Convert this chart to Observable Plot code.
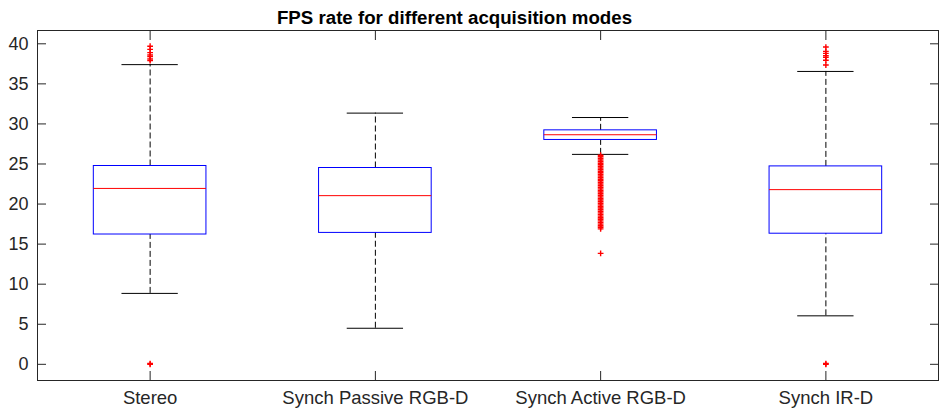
<!DOCTYPE html>
<html><head><meta charset="utf-8">
<script src="https://cdn.jsdelivr.net/npm/d3@7"></script>
<script src="https://cdn.jsdelivr.net/npm/@observablehq/plot@0.6"></script>
<style>body{margin:0;background:#fff;}</style>
</head><body><div id="chart"></div>
<script>
const title = "FPS rate for different acquisition modes";
const categories = ["Stereo", "Synch Passive RGB-D", "Synch Active RGB-D", "Synch IR-D"];
const q1 = [16.2, 16.4, 28.0, 16.3];
const medians = [21.95, 21.05, 28.65, 21.8];
const q3 = [24.75, 24.5, 29.2, 24.7];
const whiskerLow = [8.85, 4.5, 26.2, 6.05];
const whiskerHigh = [37.4, 31.35, 30.8, 36.55];
const outliersStereo = [39.7, 39.3, 38.9, 38.6, 38.4, 38.1, 37.9, 0.1, 0];
const outliersPassive = [];
const outliersActive = [26.1, 25.9, 25.7, 25.5, 25.3, 25.1, 24.9, 24.7, 24.5, 24.3, 24.1, 23.9, 23.7, 23.5, 23.3, 23.1, 22.9, 22.7, 22.5, 22.3, 22.1, 21.9, 21.7, 21.5, 21.3, 21.1, 20.9, 20.7, 20.5, 20.3, 20.1, 19.9, 19.7, 19.5, 19.3, 19.1, 18.9, 18.7, 18.5, 18.3, 18.1, 17.9, 17.7, 17.5, 17.3, 17.1, 16.9, 13.85];
const outliersIR = [39.6, 39.05, 38.8, 38.5, 38.3, 37.95, 37.35, 0.1, 0];
const yTicks = [0, 5, 10, 15, 20, 25, 30, 35, 40];

const outlierLists = [outliersStereo, outliersPassive, outliersActive, outliersIR];
const boxes = categories.map((c, i) => ({
  pos: i + 1, name: c, q1: q1[i], med: medians[i], q3: q3[i], lo: whiskerLow[i], hi: whiskerHigh[i]
}));
const outliers = outlierLists.flatMap((list, i) => list.map(v => ({pos: i + 1, value: v})));
const xTicks = boxes.map(b => b.pos);

const font = "'Liberation Sans', Arial, Helvetica, sans-serif";
const axisColor = "#262626";

const chart = Plot.plot({
  width: 948, height: 410,
  marginLeft: 37, marginRight: 10, marginTop: 30, marginBottom: 30,
  x: {type: "linear", domain: [0.5, 4.5]},
  y: {domain: [-2.02, 41.66]},
  style: {fontFamily: font, fontSize: "18px", color: axisColor, background: "#fff"},
  marks: [
    Plot.ruleX(boxes, {x: "pos", y1: "q3", y2: "hi", stroke: "#000", strokeDasharray: "6,3"}),
    Plot.ruleX(boxes, {x: "pos", y1: "lo", y2: "q1", stroke: "#000", strokeDasharray: "6,3"}),
    Plot.ruleY(boxes, {y: "hi", x1: d => d.pos - 0.125, x2: d => d.pos + 0.125, stroke: "#000"}),
    Plot.ruleY(boxes, {y: "lo", x1: d => d.pos - 0.125, x2: d => d.pos + 0.125, stroke: "#000"}),
    Plot.rect(boxes, {x1: d => d.pos - 0.25, x2: d => d.pos + 0.25, y1: "q1", y2: "q3", fill: "none", stroke: "#0000ff"}),
    Plot.ruleY(boxes, {y: "med", x1: d => d.pos - 0.25, x2: d => d.pos + 0.25, stroke: "#ff0000"}),
    Plot.dot(outliers, {x: "pos", y: "value", symbol: "plus", r: 2, stroke: "#ff0000", strokeWidth: 1.4}),
    Plot.frame({stroke: axisColor}),
    Plot.axisY({ticks: yTicks, tickSize: 0, tickPadding: 9, fontSize: 18, label: null, fill: axisColor}),
    Plot.axisY({ticks: yTicks, tickSize: 9, dx: 9, fill: "none", label: null, stroke: axisColor}),
    Plot.axisY({ticks: yTicks, anchor: "right", tickSize: 9, dx: -9, fill: "none", label: null, stroke: axisColor}),
    Plot.axisX({ticks: xTicks, tickFormat: d => categories[d - 1], tickSize: 0, tickPadding: 10, fontSize: 18.5, label: null, fill: axisColor}),
    Plot.axisX({ticks: xTicks, anchor: "bottom", tickSize: 9, dy: -9, fill: "none", label: null, stroke: axisColor}),
    Plot.axisX({ticks: xTicks, anchor: "top", tickSize: 9, dy: 9, fill: "none", label: null, stroke: axisColor}),
    Plot.text([title], {frameAnchor: "top", dx: -33.5, dy: -7, lineAnchor: "bottom", fontWeight: "bold", fontSize: 18.7, fill: "#000"})
  ]
});
document.getElementById("chart").appendChild(chart);
</script>
</body></html>
